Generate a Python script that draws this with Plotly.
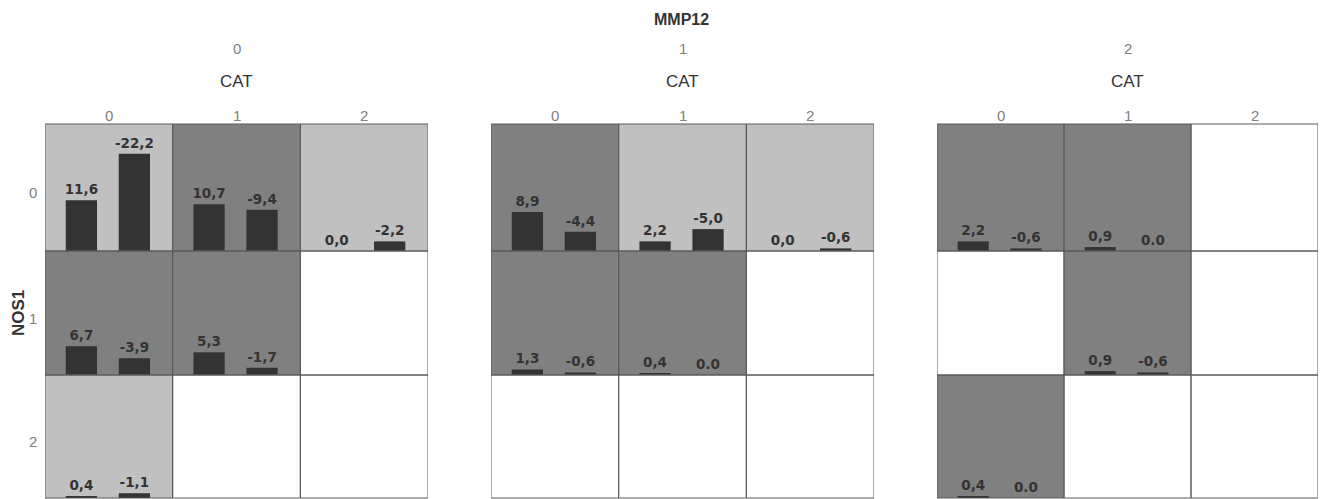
import plotly.graph_objects as go

W, H = 1320, 499

# Facet levels
mmp12_levels = ["0", "1", "2"]
cat_levels = ["0", "1", "2"]
nos1_levels = ["0", "1", "2"]

# Cell shading per facet (rows = NOS1, cols = CAT): L = light, D = dark, W = empty
shade_mmp0 = [["L", "D", "L"], ["D", "D", "W"], ["L", "W", "W"]]
shade_mmp1 = [["D", "L", "L"], ["D", "D", "W"], ["W", "W", "W"]]
shade_mmp2 = [["D", "D", "W"], ["W", "D", "W"], ["D", "W", "W"]]

# Value labels for the two bars of each cell (None = no bars)
labels_mmp0 = [[("11,6", "-22,2"), ("10,7", "-9,4"), ("0,0", "-2,2")],
               [("6,7", "-3,9"), ("5,3", "-1,7"), None],
               [("0,4", "-1,1"), None, None]]
labels_mmp1 = [[("8,9", "-4,4"), ("2,2", "-5,0"), ("0,0", "-0,6")],
               [("1,3", "-0,6"), ("0,4", "0.0"), None],
               [None, None, None]]
labels_mmp2 = [[("2,2", "-0,6"), ("0,9", "0.0"), None],
               [None, ("0,9", "-0,6"), None],
               [("0,4", "0.0"), None, None]]

shades = [shade_mmp0, shade_mmp1, shade_mmp2]
labels = [labels_mmp0, labels_mmp1, labels_mmp2]

shade_colors = {"L": "#c0c0c0", "D": "#808080", "W": "#ffffff"}
BAR_COLOR = "#333333"
LINE_COLOR = "#5a5a5a"
TEXT_DARK = "#333333"
TEXT_GRAY = "#808080"
Y_MAX = 29.0

# Pixel layout of the facet grid
panel_x = [(45, 428), (491, 874), (937, 1318)]
row_y = [(124, 251), (251, 375), (375, 498)]


def px_x(x):
    return x / W


def px_y(y):
    return 1 - y / H


def to_value(s):
    return float(s.replace(",", "."))


def label(text, x, y, size, color, angle=0):
    return dict(text=text, x=px_x(x), y=px_y(y), xref="paper", yref="paper",
                xanchor="center", yanchor="middle", showarrow=False,
                textangle=angle,
                font=dict(family="Liberation Sans", size=size, color=color))


fig = go.Figure()
shapes = []
annotations = []

for r in range(3):
    for p in range(3):
        idx = r * 3 + p + 1
        xa = "x" if idx == 1 else f"x{idx}"
        ya = "y" if idx == 1 else f"y{idx}"
        fig.layout[f"xaxis{'' if idx == 1 else idx}"] = dict(
            domain=[px_x(panel_x[p][0]), px_x(panel_x[p][1])],
            range=[0, 3], visible=False, fixedrange=True, anchor=ya)
        fig.layout[f"yaxis{'' if idx == 1 else idx}"] = dict(
            domain=[px_y(row_y[r][1]), px_y(row_y[r][0])],
            range=[0, Y_MAX], visible=False, fixedrange=True, anchor=xa)

        for c in range(3):
            shapes.append(dict(type="rect", xref=xa, yref=f"{ya} domain",
                               x0=c, x1=c + 1, y0=0, y1=1, layer="below",
                               fillcolor=shade_colors[shades[p][r][c]],
                               line=dict(width=0)))
            shapes.append(dict(type="rect", xref=xa, yref=f"{ya} domain",
                               x0=c, x1=c + 1, y0=0, y1=1, layer="above",
                               fillcolor="rgba(0,0,0,0)",
                               line=dict(color=LINE_COLOR, width=1)))
            pair = labels[p][r][c]
            if pair is None:
                continue
            vals = [abs(to_value(s)) for s in pair]
            fig.add_trace(go.Bar(
                x=[c + 0.285, c + 0.70], y=vals, width=0.245,
                xaxis=xa, yaxis=ya,
                marker=dict(color=BAR_COLOR, line=dict(width=0)),
                text=list(pair), textposition="outside",
                constraintext="none", cliponaxis=False,
                textfont=dict(family="DejaVu Sans", size=13.5,
                              color=TEXT_DARK, weight="bold"),
                showlegend=False, hoverinfo="skip"))

# Column headers: MMP12 level, CAT title and CAT tick labels
annotations.append(label("<b>MMP12</b>", 681, 19, 16, TEXT_DARK))
for p in range(3):
    cx = (panel_x[p][0] + panel_x[p][1]) / 2
    annotations.append(label(mmp12_levels[p], cx, 49, 15, TEXT_GRAY))
    annotations.append(label("CAT", cx, 82, 17, TEXT_DARK))
    cw = (panel_x[p][1] - panel_x[p][0]) / 3
    for c in range(3):
        tx = panel_x[p][0] + cw * (c + 0.5)
        annotations.append(label(cat_levels[c], tx, 115, 15, TEXT_GRAY))

# Row headers: NOS1 title and tick labels
annotations.append(label("<b>NOS1</b>", 18, 313, 17, TEXT_DARK, angle=-90))
for r in range(3):
    cy = (row_y[r][0] + row_y[r][1]) / 2 + 5
    annotations.append(label(nos1_levels[r], 33, cy, 15, TEXT_GRAY))

fig.update_layout(
    width=W, height=H,
    margin=dict(l=0, r=0, t=0, b=0),
    paper_bgcolor="white", plot_bgcolor="rgba(0,0,0,0)",
    shapes=shapes, annotations=annotations,
    barmode="overlay", showlegend=False,
)

fig.write_html("out.html")
